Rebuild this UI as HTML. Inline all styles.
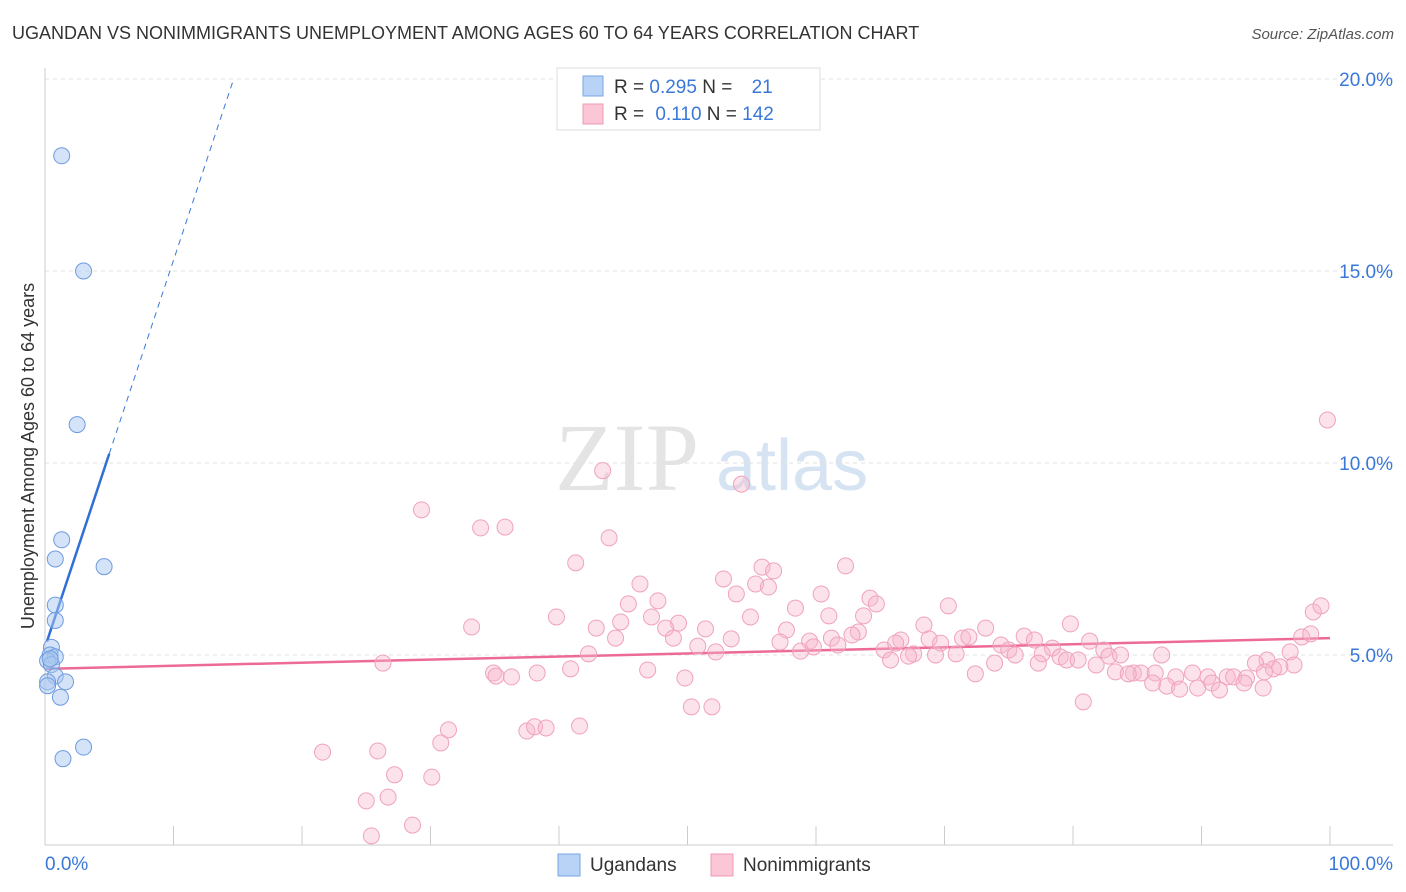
<!DOCTYPE html>
<html><head><meta charset="utf-8"><style>
body{margin:0;background:#fff;font-family:"Liberation Sans",sans-serif;}
svg{display:block}
</style></head><body>
<svg id="chart" width="1406" height="892">
<text x="12" y="39" font-size="18" fill="#333">UGANDAN VS NONIMMIGRANTS UNEMPLOYMENT AMONG AGES 60 TO 64 YEARS CORRELATION CHART</text>
<text x="1394" y="39" font-size="15" fill="#555" font-style="italic" text-anchor="end">Source: ZipAtlas.com</text>
<text x="0" y="0" transform="translate(34,456) rotate(-90)" font-size="18" fill="#333" text-anchor="middle">Unemployment Among Ages 60 to 64 years</text>
<g><text x="555" y="490" font-family="Liberation Serif,serif" font-size="96" fill="#e4e4e4">ZIP</text><text x="716" y="490" font-size="72" fill="#d6e3f3">atlas</text></g>
<g id="grid"></g><g id="axes"></g><g id="lines"></g><g id="pts"></g>
<g>
<rect x="557" y="68" width="263" height="62" fill="#fff" stroke="#ddd"/>
<rect x="583" y="76" width="20" height="20" fill="#b8d3f5" stroke="#7aa6e6"/>
<rect x="583" y="104" width="20" height="20" fill="#fbc6d6" stroke="#f09bb6"/>
<text x="614" y="93" font-size="19" fill="#333">R = <tspan fill="#3a78d8">0.295</tspan>   N = <tspan fill="#3a78d8" dx="14">21</tspan></text>
<text x="614" y="120" font-size="19" fill="#333">R = <tspan fill="#3a78d8" dx="6">0.110</tspan>   N = <tspan fill="#3a78d8">142</tspan></text>
</g>
<g>
<rect x="558" y="854" width="22" height="22" fill="#b8d3f5" stroke="#7aa6e6"/>
<text x="590" y="871" font-size="19" fill="#333">Ugandans</text>
<rect x="711" y="854" width="22" height="22" fill="#fbc6d6" stroke="#f09bb6"/>
<text x="743" y="871" font-size="19" fill="#333">Nonimmigrants</text>
</g>
</svg>
<script>
const blueX=[1.3,3.0,2.5,1.3,0.8,4.6,0.8,0.8,0.5,0.4,0.8,0.2,0.5,0.8,0.2,1.6,0.2,1.2,3.0,1.4,0.4];
const blueY=[18.0,15.0,11.0,8.0,7.5,7.3,6.3,5.9,5.2,5.0,4.95,4.85,4.75,4.45,4.3,4.3,4.2,3.9,2.6,2.3,4.9];
const pinkX=[43.4,54.2,29.3,33.9,35.8,43.9,41.3,52.8,55.8,56.7,62.3,46.3,55.3,56.3,53.8,60.4,47.7,64.2,64.7,45.4,70.3,58.4,39.8,47.2,54.9,61.0,63.7,98.7,99.3,99.8,33.2,42.9,44.8,49.3,48.3,51.4,57.7,63.3,68.4,73.2,79.8,97.8,98.5,44.4,48.9,53.4,59.5,61.2,62.8,66.6,68.8,71.4,71.9,76.2,77.0,81.3,50.8,57.2,59.8,61.7,65.3,66.2,69.7,74.4,75.0,78.4,82.4,82.8,42.3,52.2,58.8,67.6,69.3,70.9,75.5,77.6,79.0,79.5,83.7,86.9,96.9,95.1,94.2,26.3,65.8,67.2,73.9,77.3,80.4,81.8,97.2,96.1,95.6,40.9,46.9,34.9,35.1,36.3,38.3,49.8,72.4,83.3,84.7,85.3,84.3,86.4,88.0,89.3,90.5,92.0,92.5,93.5,94.9,86.2,87.3,88.3,89.7,90.8,91.4,93.3,94.8,80.8,50.3,51.9,21.6,25.9,27.2,30.1,25.0,26.7,25.4,28.6,30.8,31.4,37.5,38.1,39.0,41.6];
const pinkY=[9.80,9.45,8.78,8.31,8.33,8.05,7.40,6.98,7.29,7.19,7.32,6.85,6.85,6.77,6.59,6.59,6.41,6.48,6.33,6.33,6.28,6.22,5.99,5.99,5.99,6.02,6.02,6.12,6.28,11.12,5.73,5.70,5.86,5.83,5.70,5.68,5.65,5.60,5.78,5.70,5.81,5.47,5.55,5.44,5.44,5.42,5.36,5.44,5.52,5.39,5.42,5.44,5.47,5.49,5.39,5.36,5.23,5.34,5.21,5.26,5.13,5.31,5.31,5.26,5.13,5.18,5.13,4.97,5.03,5.08,5.10,5.03,5.00,5.03,5.00,5.03,4.95,4.87,5.00,5.00,5.08,4.87,4.79,4.79,4.87,4.97,4.79,4.79,4.87,4.74,4.74,4.69,4.64,4.64,4.61,4.53,4.45,4.43,4.53,4.40,4.51,4.56,4.53,4.53,4.51,4.53,4.43,4.53,4.43,4.43,4.43,4.40,4.56,4.27,4.19,4.11,4.14,4.27,4.09,4.27,4.14,3.78,3.65,3.65,2.47,2.50,1.88,1.82,1.20,1.30,0.29,0.57,2.71,3.05,3.02,3.13,3.10,3.15];
const yTicks=[5,10,15,20];
const yTickLabels=["5.0%","10.0%","15.0%","20.0%"];
const xTicks=[0,10,20,30,40,50,60,70,80,90,100];
const blueFit=[5.2,1.008]; // intercept, slope
const pinkFit=[4.64,0.008];
const NS="http://www.w3.org/2000/svg";
const sx=v=>45+v*12.85, sy=v=>847-v*38.4;
function mk(tag,attrs,parent){const e=document.createElementNS(NS,tag);for(const k in attrs)e.setAttribute(k,attrs[k]);document.getElementById(parent).appendChild(e);return e;}
yTicks.forEach((t,i)=>{
 const l=mk('line',{x1:45,x2:1393,y1:sy(t),y2:sy(t),stroke:'#e2e2e2','stroke-dasharray':'4,4'},'grid');
 
 
 const tx=mk('text',{x:1393,y:sy(t)+7,'font-size':19,fill:'#3a78d8','text-anchor':'end'},'grid');
 tx.textContent=yTickLabels[i];
 
 
});
const ax=mk('line',{x1:45,x2:45,y1:68,y2:845,stroke:'#ccc'},'axes');


const bx=mk('line',{x1:45,x2:1393,y1:845,y2:845,stroke:'#ccc'},'axes');


xTicks.forEach(t=>{
 const l=mk('line',{x1:sx(t),x2:sx(t),y1:826,y2:845,stroke:'#ccc'},'axes');
 
 
});
const x0=mk('text',{x:45,y:870,'font-size':19,fill:'#3a78d8'},'axes');x0.textContent="0.0%";


const x1=mk('text',{x:1393,y:870,'font-size':19,fill:'#3a78d8','text-anchor':'end'},'axes');x1.textContent="100.0%";


pinkX.forEach((x,i)=>{
 const c=mk('circle',{cx:sx(x),cy:sy(pinkY[i]),r:8,fill:'rgba(248,182,204,0.4)',stroke:'#f0a2bc','stroke-width':1},'pts');
 
 
});
blueX.forEach((x,i)=>{
 const c=mk('circle',{cx:sx(x),cy:sy(blueY[i]),r:8,fill:'rgba(170,200,240,0.5)',stroke:'#6d9be0','stroke-width':1},'pts');
 
 
});
const xe=(20-blueFit[0])/blueFit[1];
const bd=mk('line',{x1:sx(5),y1:sy(blueFit[0]+blueFit[1]*5),x2:sx(xe),y2:sy(20),stroke:'#3a78d8','stroke-width':1,'stroke-dasharray':'6,5'},'lines');


const bl=mk('line',{x1:sx(0.15),y1:sy(blueFit[0]+blueFit[1]*0.15),x2:sx(5),y2:sy(blueFit[0]+blueFit[1]*5),stroke:'#2f6fd6','stroke-width':2.5},'lines');


const pl=mk('line',{x1:sx(0),y1:sy(pinkFit[0]),x2:sx(100),y2:sy(pinkFit[0]+pinkFit[1]*100),stroke:'#ec6a95','stroke-width':2.5},'lines');


</script>
</body></html>
